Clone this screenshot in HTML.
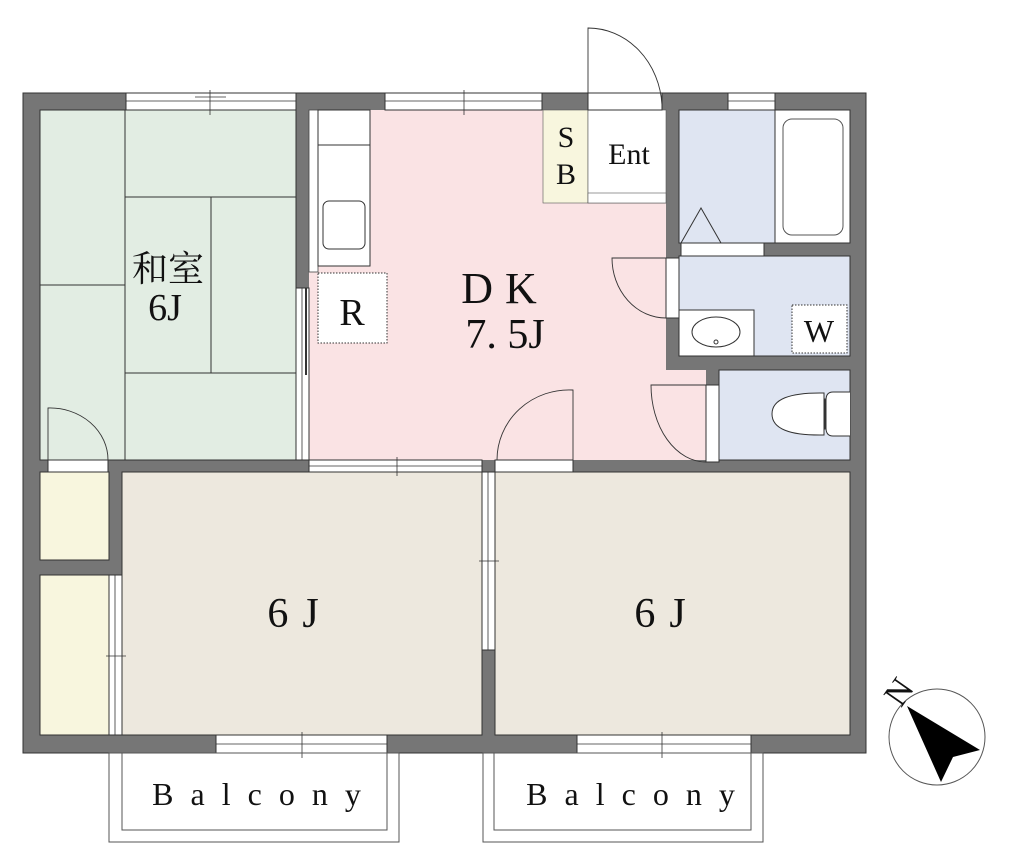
<!DOCTYPE html>
<html><head><meta charset="utf-8"><style>
html,body{margin:0;padding:0;background:#fff;width:1024px;height:862px;overflow:hidden}
text{font-family:"Liberation Serif","Noto Serif CJK SC",serif;fill:#111}
</style></head><body>
<svg width="1024" height="862" viewBox="0 0 1024 862" xmlns="http://www.w3.org/2000/svg">
<rect x="23" y="93" width="843" height="660" fill="#767676" stroke="#333" stroke-width="1"/>
<rect x="40" y="110" width="256" height="350" fill="#e2ede3" stroke="#333"/>
<rect x="309" y="110" width="357" height="350" fill="#fae3e4"/>
<rect x="309" y="370" width="397" height="90" fill="#fae3e4"/>
<rect x="543" y="110" width="45" height="93" fill="#f8f6de" stroke="#555" stroke-width="0.6"/>
<rect x="588" y="110" width="78" height="93" fill="#fff" stroke="#555" stroke-width="0.6"/>
<rect x="588" y="193" width="78" height="10" fill="#fff" stroke="#555" stroke-width="0.6"/>
<rect x="679" y="110" width="171" height="133" fill="#dfe5f2" stroke="#333"/>
<rect x="775" y="110" width="75" height="133" fill="#fff" stroke="#333"/>
<rect x="783" y="119" width="60" height="116" rx="9" fill="#fff" stroke="#555"/>
<polyline points="681,243 701,208 721,243" fill="none" stroke="#333"/>
<rect x="681" y="243" width="83" height="13" fill="#fff" stroke="#333"/>
<rect x="679" y="256" width="171" height="100" fill="#dfe5f2" stroke="#333"/>
<rect x="679" y="310" width="75" height="46" fill="#fff" stroke="#333"/>
<ellipse cx="716" cy="332" rx="24" ry="15" fill="#fff" stroke="#333"/>
<circle cx="716" cy="342" r="2" fill="none" stroke="#333"/>
<rect x="792" y="305" width="55" height="48" fill="#fff" stroke="#333" stroke-dasharray="1.5,1.5"/>
<text x="819" y="342" font-size="32" text-anchor="middle">W</text>
<rect x="719" y="370" width="131" height="90" fill="#dfe5f2" stroke="#333"/>
<path d="M850,392 L833,392 Q826,392 826,400 L826,428 Q826,436 833,436 L850,436" fill="#fff" stroke="#333"/>
<rect x="820" y="399" width="5" height="30" fill="#fff" stroke="#333"/>
<path d="M824,393 Q772,392 772,414 Q772,436 824,435 Z" fill="#fff" stroke="#333"/>
<rect x="40" y="472" width="69" height="88" fill="#f8f6de" stroke="#333"/>
<rect x="40" y="575" width="69" height="160" fill="#f8f6de" stroke="#333"/>
<rect x="122" y="472" width="360" height="263" fill="#ede8de" stroke="#333"/>
<rect x="495" y="472" width="355" height="263" fill="#ede8de" stroke="#333"/>
<g stroke="#333" stroke-width="1" fill="none">
<line x1="125" y1="110" x2="125" y2="460"/>
<line x1="125" y1="197" x2="296" y2="197"/>
<line x1="125" y1="373" x2="296" y2="373"/>
<line x1="211" y1="197" x2="211" y2="373"/>
<line x1="40" y1="285" x2="125" y2="285"/>
</g>
<rect x="309" y="110" width="9" height="162" fill="#fff" stroke="#444" stroke-width="0.8"/>
<rect x="318" y="110" width="52" height="35" fill="#fff" stroke="#333"/>
<rect x="318" y="145" width="52" height="121" fill="#fff" stroke="#333"/>
<rect x="323" y="201" width="42" height="48" rx="6" fill="#fff" stroke="#333"/>
<rect x="318" y="273" width="69" height="70" fill="#fff" stroke="#333" stroke-dasharray="1.5,1.5"/>
<text x="352" y="325" font-size="38" text-anchor="middle">R</text>
<g fill="#fff" stroke="#333" stroke-width="1">
<rect x="126" y="93" width="170" height="17"/>
<rect x="385" y="93" width="157" height="17"/>
<rect x="728" y="93" width="47" height="17"/>
<rect x="588" y="93" width="74" height="17"/>
<rect x="296" y="288" width="13" height="172"/>
<rect x="48" y="460" width="60" height="12"/>
<rect x="309" y="460" width="173" height="12"/>
<rect x="495" y="460" width="78" height="12"/>
<rect x="109" y="575" width="13" height="160"/>
<rect x="482" y="472" width="13" height="178"/>
<rect x="216" y="735" width="171" height="18"/>
<rect x="577" y="735" width="174" height="18"/>
<rect x="666" y="258" width="13" height="60"/>
<rect x="706" y="385" width="13" height="77"/>
</g>
<g stroke="#333" stroke-width="0.8" fill="none">
<line x1="126" y1="101" x2="296" y2="101"/><line x1="195" y1="97" x2="226" y2="97"/><line x1="210" y1="90" x2="210" y2="115"/>
<line x1="385" y1="101" x2="542" y2="101"/><line x1="464" y1="90" x2="464" y2="115"/>
<line x1="728" y1="101" x2="775" y2="101"/>
<line x1="302" y1="288" x2="302" y2="460"/><line x1="306" y1="288" x2="306" y2="375" stroke-width="2"/>
<line x1="309" y1="466" x2="482" y2="466"/><line x1="397" y1="457" x2="397" y2="476"/>
<line x1="115" y1="575" x2="115" y2="735"/><line x1="106" y1="656" x2="126" y2="656"/>
<line x1="488" y1="472" x2="488" y2="650"/><line x1="479" y1="561" x2="499" y2="561"/>
<line x1="216" y1="744" x2="387" y2="744"/><line x1="302" y1="732" x2="302" y2="758"/>
<line x1="577" y1="744" x2="751" y2="744"/><line x1="662" y1="732" x2="662" y2="758"/>
</g>
<g stroke="#333" stroke-width="0.9" fill="none">
<path d="M588,110 L588,28 A74,82 0 0 1 662,105"/>
<path d="M48,460 L48,408 A58,52 0 0 1 108,460"/>
<path d="M573,460 L573,390 A72,70 0 0 0 497,460"/>
<path d="M666,258 L612,258 A54,60 0 0 0 666,318"/>
<path d="M706,385 L651,385 A55,77 0 0 0 706,462"/>
</g>
<g fill="none" stroke="#555" stroke-width="1">
<rect x="109" y="753" width="290" height="89"/>
<rect x="122" y="753" width="265" height="77"/>
<rect x="483" y="753" width="280" height="89"/>
<rect x="494" y="753" width="257" height="77"/>
</g>
<text x="168" y="281" font-size="36" text-anchor="middle" font-family="'Noto Serif CJK SC',serif">和室</text>
<text x="165" y="320" font-size="38" text-anchor="middle">6J</text>
<text x="505" y="303" font-size="44" text-anchor="middle" letter-spacing="12">DK</text>
<text x="505" y="348" font-size="42" text-anchor="middle">7. 5J</text>
<text x="566" y="147" font-size="30" text-anchor="middle">S</text>
<text x="566" y="184" font-size="30" text-anchor="middle">B</text>
<text x="629" y="164" font-size="30" text-anchor="middle">Ent</text>
<text x="300" y="627" font-size="42" text-anchor="middle" letter-spacing="14">6J</text>
<text x="667" y="627" font-size="42" text-anchor="middle" letter-spacing="14">6J</text>
<text x="265" y="805" font-size="32" text-anchor="middle" letter-spacing="17">Balcony</text>
<text x="639" y="805" font-size="32" text-anchor="middle" letter-spacing="17">Balcony</text>
<circle cx="937" cy="737" r="48" fill="#fff" stroke="#555"/>
<path d="M907,706 L980,750 L953,757 L941,782 Z" fill="#000"/>
<text x="899" y="703" font-size="34" text-anchor="middle" transform="rotate(-55 899 692)">N</text>
</svg>
</body></html>
